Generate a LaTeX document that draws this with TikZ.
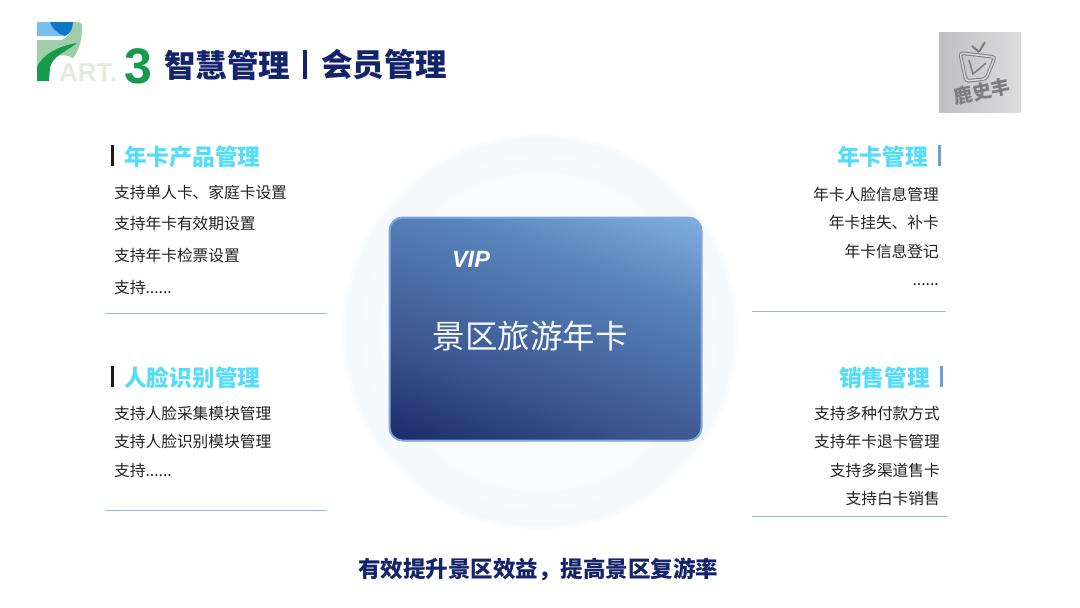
\documentclass[tikz,border=0pt]{standalone}
\usepackage{fontspec}
\setmainfont{Noto Sans CJK SC}
\newfontfamily\latinfont{Liberation Sans}
\usetikzlibrary{positioning}
\definecolor{titlenavy}{RGB}{20,36,107}
\definecolor{headcyan}{RGB}{84,220,250}
\definecolor{itemgray}{RGB}{34,34,34}
\definecolor{ruleblue}{RGB}{150,190,225}
\definecolor{barblue}{RGB}{106,160,214}
\definecolor{cardedge}{RGB}{125,170,222}
\definecolor{carddark}{RGB}{27,42,108}
\definecolor{cardbase}{RGB}{42,60,120}
\definecolor{cardlow}{RGB}{60,85,144}
\definecolor{cardhigh}{RGB}{90,133,189}
\definecolor{cardlight}{RGB}{127,176,222}
\definecolor{halofill}{RGB}{245,249,252}
\definecolor{logosky}{RGB}{120,190,238}
\definecolor{logoblue}{RGB}{10,120,195}
\definecolor{logomint}{RGB}{160,205,170}
\definecolor{logogreen}{RGB}{22,155,75}
\definecolor{logopale}{RGB}{228,235,220}
\definecolor{badgegray}{RGB}{212,212,214}
\definecolor{badgemark}{RGB}{125,125,128}
\pgfdeclareverticalshading{cardfill}{100bp}{color(0bp)=(carddark); color(18bp)=(carddark); color(26bp)=(cardbase); color(37bp)=(cardlow); color(65bp)=(cardhigh); color(82bp)=(cardlight); color(100bp)=(cardlight)}

\begin{document}
\begin{tikzpicture}[
    x=1pt, y=-1pt,
    heading/.style={inner sep=0pt, text=headcyan, font=\bfseries\fontsize{22.7}{24}\selectfont},
    itemleft/.style={anchor=west, inner sep=0pt, text=itemgray, text height=13pt, text depth=2.5pt, font=\fontsize{15.7}{17}\selectfont},
    itemright/.style={anchor=east, inner sep=0pt, text=itemgray, text height=13pt, text depth=2.5pt, font=\fontsize{15.7}{17}\selectfont},
    divider/.style={ruleblue, line width=0.9pt},
    leftbar/.style={black!90, line width=3.5pt},
    rightbar/.style={barblue, line width=3.5pt},
    titletext/.style={inner sep=0pt, text=titlenavy, font=\bfseries\fontsize{31.5}{33}\selectfont}
]
\useasboundingbox (0,0) rectangle (1080,608);
\fill[white] (0,0) rectangle (1080,608);

% backdrop and card
\foreach \r/\m in {199/30, 197/65, 194/100, 178/80, 160/60}
    \fill[halofill!\m!white] (540,332) circle (\r);
\node[draw=cardedge, line width=2pt, rounded corners=13pt, minimum width=312pt, minimum height=223pt, inner sep=0pt, shading=cardfill, shading angle=-20] (card) at (545.5,329) {};
\node[inner sep=0pt, text=white, font=\latinfont\bfseries\itshape\fontsize{23.5}{25}\selectfont] (vip) at (471,259) {VIP};
\node[inner sep=0pt, text=white!90!cardlight, font=\fontsize{32.5}{34}\selectfont] (cardname) at (530,336) {景区旅游年卡};

% part logo
\fill[logomint] (37,40) -- (62,40) .. controls (68,37) and (72,32) .. (73,22) -- (78,22) .. controls (81,22) and (82,24) .. (82,28) .. controls (82,42) and (78,52) .. (73,58) .. controls (66,54) and (56,54) .. (50,60) -- (37,68) -- cycle;
\fill[logosky] (37,22) -- (50,22) .. controls (52,29) and (58,34) .. (65,36) -- (37,36) -- cycle;
\fill[logoblue] (50,22) -- (73,22) .. controls (73,29) and (70,34) .. (65,36) .. controls (58,34) and (52,29) .. (50,22) -- cycle;
\fill[logogreen] (37,81) -- (37,67) .. controls (42,55) and (58,46) .. (77,43) .. controls (66,52) and (52,56) .. (50,68) -- (49,81) -- cycle;
\node[inner sep=0pt, anchor=base west, text=logopale, font=\latinfont\bfseries\fontsize{26}{28}\selectfont] (parttext) at (59,81) {ART.};
\node[inner sep=0pt, anchor=base west, text=logogreen, font=\latinfont\bfseries\fontsize{50}{54}\selectfont] (partnum) at (124,83) {3};

% title
\node[titletext, anchor=west] (titlea) at (164,65) {智慧管理};
\node[titletext, anchor=west] (titleb) at (321,65) {会员管理};
\draw[titlenavy, line width=4pt] (305,50) -- (305,79);

% badge
\node[minimum width=82pt, minimum height=80pt, inner sep=0pt, left color=badgegray!90!black, right color=badgegray!80!white] (badge) at (980,72) {};
\draw[badgemark, line width=3.5pt, rounded corners=3pt] (960,53) -- (995,57) -- (986,79) -- (966,81) -- cycle;
\draw[white!85!black, line width=1.5pt, rounded corners=3pt] (960,53) -- (995,57) -- (986,79) -- (966,81) -- cycle;
\draw[badgemark, line width=1.5pt] (969,60) -- (973,74) -- (986,63);
\draw[badgemark, line width=2pt] (979,52) -- (985,42) (979,52) -- (972,46);
\node[inner sep=0pt, rotate=12, text=badgemark, font=\bfseries\fontsize{19}{21}\selectfont] (badgename) at (982,91) {鹿史丰};

% top left group
\draw[leftbar] (112.5,145) -- (112.5,166);
\node[heading, anchor=west] (cardprod) at (124,157) {年卡产品管理};
\node[itemleft] (prodone) at (114,193) {支持单人卡、家庭卡设置};
\node[itemleft, below=15pt of prodone.south west, anchor=north west] (prodtwo) {支持年卡有效期设置};
\node[itemleft, below=16pt of prodtwo.south west, anchor=north west] (prodthree) {支持年卡检票设置};
\node[itemleft, below=16.5pt of prodthree.south west, anchor=north west] (prodfour) {支持......};
\draw[divider] (105,313.5) -- (327,313.5);

% bottom left group
\draw[leftbar] (112.5,366) -- (112.5,387);
\node[heading, anchor=west] (facerec) at (124,378) {人脸识别管理};
\node[itemleft] (faceone) at (114,414) {支持人脸采集模块管理};
\node[itemleft, below=12.5pt of faceone.south west, anchor=north west] (facetwo) {支持人脸识别模块管理};
\node[itemleft, below=13pt of facetwo.south west, anchor=north west] (facethree) {支持......};
\draw[divider] (105,510.5) -- (327,510.5);

% top right group
\draw[rightbar] (939.5,145) -- (939.5,166);
\node[heading, anchor=east] (cardmgmt) at (928,157) {年卡管理};
\node[itemright] (mgmtone) at (939,195) {年卡人脸信息管理};
\node[itemright, below=12.5pt of mgmtone.south east, anchor=north east] (mgmttwo) {年卡挂失、补卡};
\node[itemright, below=12.5pt of mgmttwo.south east, anchor=north east] (mgmtthree) {年卡信息登记};
\node[itemright, below=13pt of mgmtthree.south east, anchor=north east] (mgmtfour) {......};
\draw[divider] (752,311) -- (946,311);

% bottom right group
\draw[rightbar] (941.5,366) -- (941.5,387);
\node[heading, anchor=east] (sales) at (930,378) {销售管理};
\node[itemright] (salesone) at (940,414) {支持多种付款方式};
\node[itemright, below=12.5pt of salesone.south east, anchor=north east] (salestwo) {支持年卡退卡管理};
\node[itemright, below=13pt of salestwo.south east, anchor=north east] (salesthree) {支持多渠道售卡};
\node[itemright, below=12.5pt of salesthree.south east, anchor=north east] (salesfour) {支持白卡销售};
\draw[divider] (752,516) -- (947,516);

\node[inner sep=0pt, text=titlenavy, font=\bfseries\fontsize{22.5}{24}\selectfont] (summary) at (538,569) {有效提升景区效益，提高景区复游率};
\end{tikzpicture}
\end{document}
